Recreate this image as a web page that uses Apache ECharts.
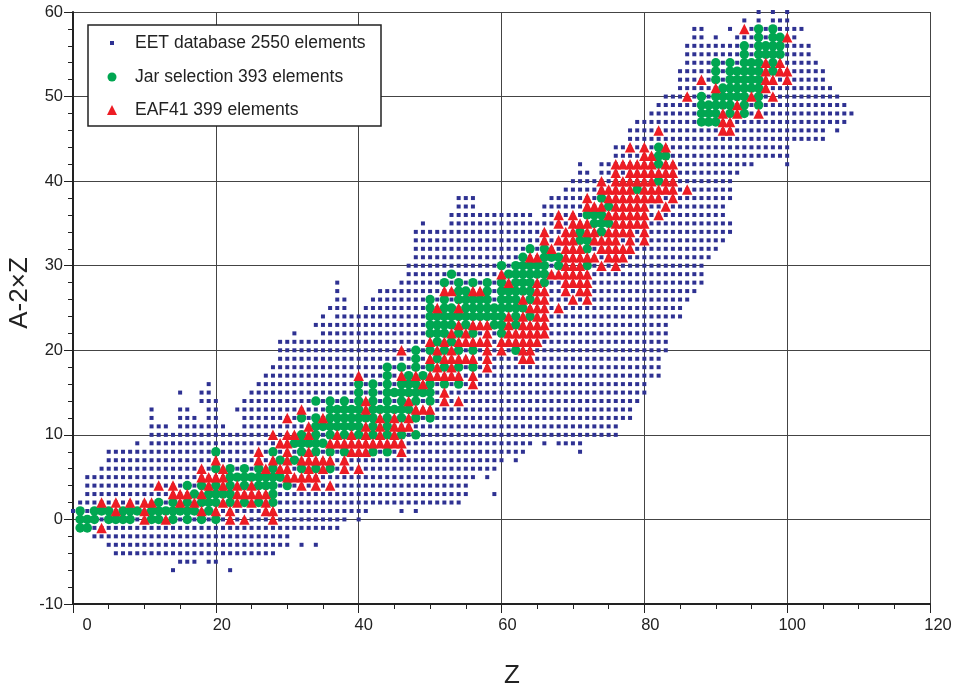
<!DOCTYPE html>
<html>
<head>
<meta charset="utf-8">
<style>html,body{margin:0;padding:0;background:#fff}#c{width:955px;height:688px}</style>
<script src="https://cdn.jsdelivr.net/npm/echarts@6/dist/echarts.min.js"></script>
</head>
<body>
<div id="c"></div>
<script>
// Each row: [A-2Z value, list of Z values (a-b = every Z from a to b)]
const eetRows = [
[-6,"14,22"],[-5,"15-17,19,20"],[-4,"6-28"],[-3,"5-30,32,34"],[-2,"3-30"],[-1,"1-37"],[0,"1-38,40"],
[1,"0-41,46,48"],[2,"1-54"],[3,"2-55,59"],[4,"2-55"],[5,"2-56,58"],[6,"4-59"],[7,"5-60,62"],[8,"5-63,71"],
[9,"9,11-64,66,68-71"],[10,"11-76"],[11,"11-13,15-21,24-76"],[12,"11,15-17,19,20,24-78"],[13,"11,15,16,19,20,23-78"],
[14,"18-20,24-79"],[15,"15,18,19,25-80"],[16,"19,26-80"],[17,"27-82"],[18,"28-82"],[19,"29-82"],[20,"29-83"],
[21,"29-83"],[22,"31,35-83"],[23,"34-83"],[24,"35,37-85"],[25,"36-38,41-85"],[26,"37,38,42-86"],[27,"37,43-87"],
[28,"37,46-88"],[29,"47-88"],[30,"47-88"],[31,"48-89"],[32,"48-90"],[33,"48-91"],[34,"48-92"],[35,"49,53-92"],
[36,"53-64,66-91"],[37,"54-56,66-91"],[38,"54-56,67-92"],[39,"69-92"],[40,"70-92"],[41,"71,72,74-93"],
[42,"71,74-95,100"],[43,"76-100"],[44,"76-100"],[45,"78-105"],[46,"78-105,107"],[47,"79-108"],[48,"81-109"],
[49,"82-108"],[50,"83-107"],[51,"85-106"],[52,"85-105"],[53,"85-105"],[54,"86-104"],[55,"86-103"],[56,"86-103"],
[57,"87,88,90,93-95,97,101"],[58,"87,88,92,95,97,99-102"],[59,"94,96,98-100"],[60,"96,98,100"]
];
const jarRows = [
[-1,"1,2"],[0,"1-3,5-8,11,12,14,16,18,20"],[1,"1,3-5,7-9,11-17,19"],[2,"12,14,16,18-20,22,24,26,28"],
[3,"17,19-22,28"],[4,"16,18,20,22,24,26-28,30"],[5,"22-29"],[6,"20,22,24,26,28,32,34,36"],[7,"29,31"],
[8,"20,28,32,34,36,38,42,44"],[9,"31-35"],[10,"32,34,36,38,40,42,44,46,48"],[11,"34-40,42,44"],
[12,"32,34,36-42,44,46,48,50"],[13,"36-40,42-47"],[14,"34,36,38,40,42,44,46,48,50"],[15,"40,42,44-50"],
[16,"40,42,44,46-48,50,52,54"],[17,"44,47,49"],[18,"44,46,48,50,52,54,56"],[19,"48,51"],[20,"48,50,52,54,56,62"],
[21,"51,53"],[22,"50-52,54,56,60"],[23,"50-53,55,59,60,62"],[24,"50-60,62,64"],[25,"50,52,53,55-63"],
[26,"50,52,54-58,60-62,64"],[27,"54,55,58,60-64"],[28,"52,54,56,58,60,62-64,66"],[29,"53,61-66"],
[30,"60,62-66,68,72"],[31,"63,66-68"],[32,"64,66,72"],[33,"71,72"],[34,"71,74"],[35,"73-75"],[36,"72-74"],
[37,"75"],[38,"74"],[39,"79"],[40,"82"],[42,"82"],[43,"82,83"],[44,"82"],
[47,"88-90"],[48,"88-90,92,94"],[49,"88-92,94,96"],[50,"88,90-94,96"],[51,"91-96"],[52,"90,92-96"],
[53,"90,92-96,98"],[54,"90,92,94-96,98"],[55,"94,96-99"],[56,"94,96-99"],[57,"96,98,99"],[58,"96,98"]
];
const eafRows = [
[-1,"4"],[0,"10,13,22,24,28"],[1,"6,10,18,20,22,27,28"],[2,"4,6,8,10,11,15,17,21,23,25,27"],
[3,"14-16,18,23-27"],[4,"12,14,19,21,23,25,32,34,36"],[5,"18-21,30-34"],[6,"18,21,27,29,30,33,35,38,40"],
[7,"20,26,28,30,32-36,38"],[8,"26,30,33,39-41,46"],[9,"29,30,36-46"],[10,"28,30,31,33,37,39,41,43,45"],
[11,"33,41,43,45-47"],[12,"30,35,43,45,47"],[13,"32,41,48-50"],[14,"41,47,52,54"],[15,"52"],[16,"49,56"],
[17,"40,46,48,50-54,56"],[18,"51,53,58"],[19,"50,52-56,58,63,64"],[20,"46,51,53,58,60,63,64"],
[21,"50,52,54-58,60-65"],[22,"53,55,58,61-66"],[23,"54,56-58,61,63-66"],[24,"61,63,65,66"],[25,"51,54,64-66,68"],
[26,"63,65,66,70,72"],[27,"52,53,56,57,65,66,69,71,72"],[28,"61,65,69-72"],[29,"60,67-72"],[30,"69-71,74,76"],
[31,"64,65,69-73,75-77"],[32,"67,69-71,74-78"],[33,"66,68-70,73-76,78,80"],[34,"66,69,70,72,73,75-78,80"],
[35,"68,70-72,76-80"],[36,"68,70,75-80,82"],[37,"72-74,76-80,83"],[38,"72,75-82,84"],[39,"74-78,80-84,86"],
[40,"74,76-81,83,84"],[41,"76,78-84"],[42,"76-81,83,84"],[43,"80,81"],[44,"78,80,83"],[46,"82,91,92"],
[47,"91,92"],[48,"91,93,96"],[49,"93"],[50,"86,95,98"],[51,"90,97"],[52,"88,97,98,100"],[53,"97,99,100"],
[54,"97,99"],[57,"100"],[58,"94"]
];
const xTicks = [0,20,40,60,80,100,120];
const xLabelShift = [28,12,10,12,12,10,16];
const seriesNames = ['EET database 2550 elements','Jar selection 393 elements','EAF41 399 elements'];

function expand(rows){
  const out=[];
  rows.forEach(([n,s])=>s.split(',').forEach(p=>{
    const [a,b]=p.split('-').map(Number);
    for(let z=a;z<=(b===undefined?a:b);z++) out.push([z,n]);
  }));
  return out;
}
const font='Liberation Sans';
const rich={};
xTicks.forEach((v,i)=>{rich['s'+v]={padding:[0,0,0,xLabelShift[i]],fontSize:16.5,color:'#222',fontFamily:font};});

const BLUE='#2E3192',GREEN='#00A651',RED='#ED1C24',INK='#222';
const chart=echarts.init(document.getElementById('c'),null,{renderer:'canvas'});
function legendOf(name,icon,size,color,cy){
  const pad=135-(112+size/2+5);
  return {show:true,orient:'vertical',left:112-size/2,top:cy-8,padding:0,selectedMode:false,
    itemWidth:size,itemHeight:size,z:5,
    data:[{name:name,icon:icon,itemStyle:{color:color,opacity:1}}],
    textStyle:{fontFamily:font,fontSize:17.5,color:INK,padding:[0,0,0,pad]}};
}
chart.setOption({
  animation:false,
  backgroundColor:'#fff',
  grid:{left:73,right:25,top:12,bottom:84,containLabel:false,outerBoundsMode:'none'},
  xAxis:{type:'value',min:0,max:120,interval:20,
    name:'Z',nameLocation:'middle',nameGap:59,nameMoveOverlap:false,
    nameTextStyle:{fontFamily:font,fontSize:26,color:INK,padding:[0,0,0,21]},
    axisLine:{show:true,onZero:false,lineStyle:{color:INK,width:2}},
    axisTick:{show:true,length:9,lineStyle:{color:INK,width:1}},
    minorTick:{show:true,splitNumber:4,length:5,lineStyle:{color:INK,width:1}},
    splitLine:{show:true,lineStyle:{color:'#444',width:1}},
    axisLabel:{margin:13,fontFamily:font,fontSize:16.5,color:INK,rich:rich,
      formatter:v=>'{s'+v+'|'+v+'}'}
  },
  yAxis:{type:'value',min:-10,max:60,interval:10,
    name:'A-2×Z',nameLocation:'middle',nameGap:40,nameRotate:90,nameMoveOverlap:false,
    nameTextStyle:{fontFamily:font,fontSize:26,color:INK,padding:[0,0,0,30]},
    axisLine:{show:true,onZero:false,lineStyle:{color:INK,width:2}},
    axisTick:{show:true,length:9,lineStyle:{color:INK,width:1}},
    minorTick:{show:true,splitNumber:5,length:5,lineStyle:{color:INK,width:1}},
    splitLine:{show:true,lineStyle:{color:'#444',width:1}},
    axisLabel:{margin:10,fontFamily:font,fontSize:16.5,color:INK}
  },
  legend:[
    legendOf(seriesNames[0],'rect',4,BLUE,42),
    legendOf(seriesNames[1],'circle',9,GREEN,76),
    legendOf(seriesNames[2],'triangle',10,RED,109)
  ],
  graphic:[{type:'rect',z:3,shape:{x:88,y:25,width:293,height:101},
    style:{fill:'#fff',stroke:INK,lineWidth:1.5}}],
  series:[
    {name:seriesNames[0],type:'scatter',symbol:'rect',symbolSize:4,clip:false,z:2,large:false,
     itemStyle:{color:BLUE,opacity:1},data:expand(eetRows)},
    {name:seriesNames[1],type:'scatter',symbol:'circle',symbolSize:9.5,clip:false,z:2,
     itemStyle:{color:GREEN,opacity:1},data:expand(jarRows)},
    {name:seriesNames[2],type:'scatter',symbol:'triangle',symbolSize:10.5,clip:false,z:2,
     itemStyle:{color:RED,opacity:1},data:expand(eafRows)}
  ]
});
</script>
</body>
</html>
